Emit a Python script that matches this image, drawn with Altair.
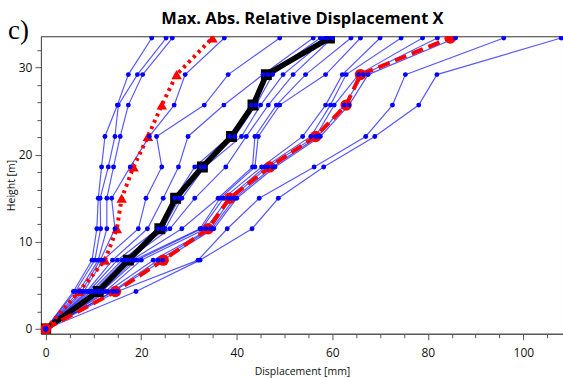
import altair as alt
import pandas as pd

# Heights of the stations [m]
HEIGHTS = [0, 4.3, 7.9, 11.5, 15.0, 18.6, 22.1, 25.7, 29.2, 33.4]

# Individual records (blue), values per height level [mm], sorted
REC_H00 = [0, 0, 0, 0, 0, 0, 0, 0, 0, 0, 0, 0, 0, 0, 0, 0, 0, 0, 0]
REC_H04 = [5.8, 6.2, 6.9, 7.5, 8.0, 8.6, 9.0, 9.5, 10.0, 10.5, 11.0, 11.5, 11.7, 12.5, 13.0, 14.0, 14.2, 15.0, 18.9]
REC_H08 = [9.7, 10.3, 11.0, 11.4, 12.0, 14.0, 15.0, 16.0, 16.5, 17.0, 18.0, 18.5, 19.1, 20.0, 22.5, 23.5, 24.5, 31.9, 32.3]
REC_H11 = [10.7, 11.5, 12.8, 14.5, 19.4, 21.3, 23.5, 24.5, 25.0, 26.0, 28.5, 32.3, 32.6, 33.5, 34.5, 34.8, 35.2, 38.0, 43.2]
REC_H15 = [11.0, 11.4, 12.8, 13.8, 21.0, 24.6, 27.0, 28.0, 28.5, 31.2, 36.1, 36.5, 37.2, 38.2, 38.8, 39.5, 40.0, 44.7, 48.7]
REC_H19 = [11.7, 13.1, 14.2, 17.7, 24.3, 27.8, 31.2, 32.5, 33.3, 37.7, 43.3, 43.8, 45.2, 45.9, 46.5, 47.5, 48.0, 56.2, 58.2]
REC_H22 = [12.4, 14.5, 15.6, 21.7, 23.2, 29.8, 38.5, 39.6, 41.0, 42.0, 43.8, 44.5, 53.8, 55.5, 56.5, 57.0, 57.5, 67.0, 68.9]
REC_H26 = [15.0, 15.2, 17.3, 26.9, 33.2, 37.3, 43.0, 44.0, 45.0, 46.6, 48.3, 49.0, 58.6, 59.6, 60.4, 62.5, 63.5, 72.6, 78.1]
REC_H29 = [17.3, 19.2, 20.3, 29.2, 38.2, 45.5, 46.5, 47.5, 49.7, 51.8, 54.4, 58.6, 62.1, 62.9, 65.5, 66.5, 67.5, 75.3, 81.9]
REC_H33 = [22.2, 25.2, 26.5, 37.4, 49.0, 56.0, 57.5, 58.4, 59.0, 60.0, 63.9, 65.9, 70.0, 74.4, 78.9, 82.0, 85.8, 95.9, 107.9]

# Summary curves
MEAN_BLACK = [0, 11.0, 17.3, 23.9, 27.2, 32.8, 38.9, 43.4, 46.2, 59.4]
RED_DASHED = [0, 14.6, 24.6, 34.0, 38.5, 46.9, 56.5, 62.9, 65.9, 84.7]
RED_DOTTED = [0, 7.0, 12.4, 14.9, 15.9, 18.4, 21.4, 24.3, 27.4, 34.9]

TITLE = "Max. Abs. Relative Displacement X"
PANEL = "c)"

LEVELS = [REC_H00, REC_H04, REC_H08, REC_H11, REC_H15, REC_H19,
          REC_H22, REC_H26, REC_H29, REC_H33]

rows = []
for i in range(len(REC_H33)):
    for j, h in enumerate(HEIGHTS):
        rows.append({"rec": f"r{i}", "x": LEVELS[j][i], "h": h, "k": j})
blue = pd.DataFrame(rows)


def curve(vals):
    return pd.DataFrame({"x": vals, "h": HEIGHTS, "k": list(range(len(HEIGHTS)))})


black_df = curve(MEAN_BLACK)
rdash_df = curve(RED_DASHED)
rdot_df = curve(RED_DOTTED)

FONT = "Open Sans"

xs = alt.Scale(domain=[-1, 108.3], nice=False, zero=False)
ys = alt.Scale(domain=[-0.55, 33.6], nice=False, zero=False)

x_axis = alt.Axis(
    title="Displacement [mm]",
    values=list(range(0, 110, 5)),
    labelExpr="datum.value % 20 === 0 ? datum.label : ''",
    tickSize={"condition": {"test": "datum.value % 20 === 0", "value": 6}, "value": 4},
    labelFlush=False,
    labelPadding=8,
    titlePadding=8,
)
y_axis = alt.Axis(
    title="Height [m]",
    values=list(range(0, 34, 2)),
    labelExpr="datum.value % 10 === 0 ? datum.label : ''",
    tickSize={"condition": {"test": "datum.value % 10 === 0", "value": 6}, "value": 4},
    labelFlush=False,
    labelPadding=3,
    titlePadding=2,
)

X = alt.X("x:Q", scale=xs, axis=x_axis)
Y = alt.Y("h:Q", scale=ys, axis=y_axis)
O = alt.Order("k:Q")

blue_lines = alt.Chart(blue).mark_line(color="#0000ff", strokeWidth=1.2, opacity=0.65, clip=True).encode(
    x=X, y=Y, detail="rec:N", order=O)

black_line = alt.Chart(black_df).mark_line(color="black", strokeWidth=5.5, clip=True).encode(x=X, y=Y, order=O)
black_pts = alt.Chart(black_df).mark_point(shape="square", filled=True, size=120, color="black", opacity=1, clip=True).encode(x=X, y=Y)

rdot_line = alt.Chart(rdot_df).mark_line(color="#ff0000", strokeWidth=4, strokeDash=[3, 4], clip=True).encode(x=X, y=Y, order=O)
rdot_pts = alt.Chart(rdot_df).mark_point(shape="triangle-up", filled=True, size=110, color="#ff0000", opacity=1, clip=True).encode(x=X, y=Y)

rdash_line = alt.Chart(rdash_df).mark_line(color="#ff0000", strokeWidth=4, strokeDash=[12, 6], clip=True).encode(x=X, y=Y, order=O)
rdash_pts = alt.Chart(rdash_df).mark_circle(size=130, color="#ff0000", opacity=1, clip=True).encode(x=X, y=Y)

blue_pts = alt.Chart(blue).mark_circle(size=24, color="#0000ff", opacity=1, clip=True).encode(x=X, y=Y)

c_label = alt.Chart(pd.DataFrame({"t": [PANEL]})).mark_text(
    font="Liberation Serif", fontSize=27, align="left", baseline="alphabetic", color="black"
).encode(text="t:N", x=alt.value(-33), y=alt.value(3))

title_text = alt.Chart(pd.DataFrame({"t": [TITLE]})).mark_text(
    font=FONT, fontSize=16.5, fontWeight="bold", align="center", baseline="alphabetic", color="black"
).encode(text="t:N", x=alt.value(262), y=alt.value(-12))

chart = alt.layer(
    blue_lines, black_line, rdot_line, rdash_line, black_pts, rdot_pts, rdash_pts, blue_pts,
    c_label, title_text
).properties(
    width=523,
    height=298,
    padding={"left": 41, "top": 36, "right": 0, "bottom": 44},
    autosize=alt.AutoSizeParams(type="none"),
).configure_view(
    stroke="#333333", strokeWidth=1
).configure_axis(
    grid=False,
    domainColor="#555555",
    tickColor="#555555",
    labelColor="#111111",
    titleColor="#111111",
    labelFont=FONT,
    titleFont=FONT,
    labelFontSize=12,
    titleFontSize=10.5,
    titleFontWeight="normal",
)

chart.save("out.html", embed_options={"renderer": "svg", "actions": False})
